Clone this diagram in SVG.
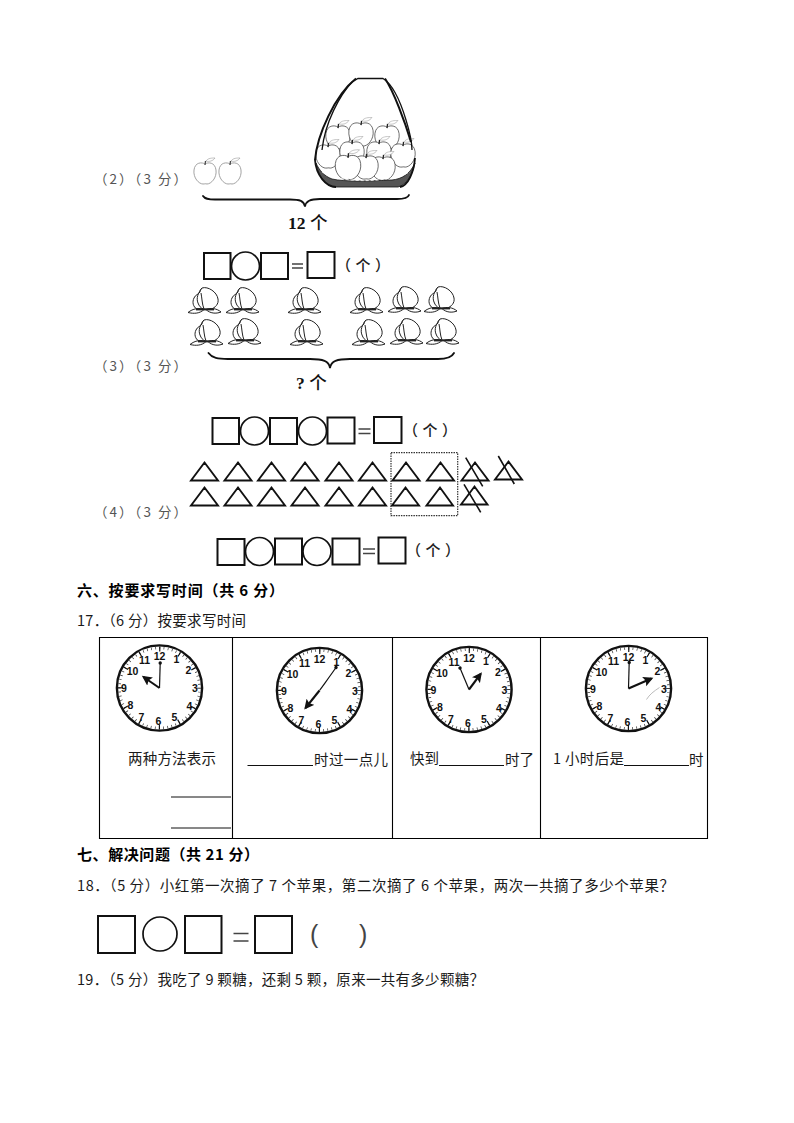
<svg xmlns="http://www.w3.org/2000/svg" xmlns:xlink="http://www.w3.org/1999/xlink" width="794" height="1123" viewBox="0 0 794 1123">
<style>
text{font-family:"Noto Sans CJK SC","Liberation Sans",sans-serif;fill:#1a1a1a;font-size:14.5px}
.g{fill:#555;font-size:13.5px}
.h{font-weight:700;font-size:15px;fill:#000}
.b{font-family:"Liberation Serif","Noto Sans CJK SC",serif;font-weight:700;font-size:17.5px;fill:#111}
.pa{font-size:15px;fill:#222;font-weight:500}
.s{fill:#fff;stroke:#111;stroke-width:2}
.c{fill:#fff;stroke:#111;stroke-width:1.7}
.e{stroke:#444;stroke-width:1.4;fill:none}
.t{fill:none;stroke:#111;stroke-width:1.9;stroke-linejoin:miter}
.x{stroke:#111;stroke-width:1.6}
.n{font-family:"Liberation Sans",sans-serif;font-weight:700;font-size:10.5px;text-anchor:middle;fill:#111}
.l{stroke:#000;stroke-width:1.1;fill:none}
.u{stroke:#111;stroke-width:1}
.hh{stroke:#111;stroke-width:2.1;fill:none;marker-end:url(#ah)}
.mh{stroke:#111;stroke-width:1.2;fill:none;marker-end:url(#am)}
.br{fill:none;stroke:#111;stroke-width:1.8;stroke-linecap:round}
.ap{fill:#fff;stroke:#444;stroke-width:.7}
.apg{fill:#fff;stroke:#999;stroke-width:.9}
</style>
<defs>
<marker id="ah" markerUnits="userSpaceOnUse" markerWidth="12" markerHeight="12" refX="8" refY="5" orient="auto"><path d="M0 0L10 5L0 10L2 5Z" fill="#111"/></marker>
<marker id="am" markerUnits="userSpaceOnUse" markerWidth="5" markerHeight="5" refX="2.5" refY="2.5" orient="auto"><circle cx="2.5" cy="2.5" r="1.7" fill="#111"/></marker>
<g id="face">
<circle r="42.6" fill="#fff" stroke="#111" stroke-width="2.4"/>
<circle r="40" fill="none" stroke="#333" stroke-width="2.6" stroke-dasharray="0.7 3.489" stroke-dashoffset="0.35"/>
<circle r="39" fill="none" stroke="#111" stroke-width="5" stroke-dasharray="1.2 19.22" stroke-dashoffset="0.6"/>
</g>
<g id="apple">
<path class="ap" d="M0-9C-3-11-10-11-11-3C-12 5-6 11-2 11C0 11 0 10.500 2 11C6 11 12 5 11-3C10-11 3-11 0-9Z"/>
<path d="M0-8L.5-12" stroke="#222" stroke-width="1.2"/>
<path d="M1-12C3-15 7-15 10-15C8-12 4-11 1-12Z" fill="#fff" stroke="#999" stroke-width=".5"/>
</g>
<g id="appleg">
<path class="apg" d="M0-9C-3-11-10-11-11-3C-12 5-6 11-2 11C0 11 0 10.500 2 11C6 11 12 5 11-3C10-11 3-11 0-9Z"/>
<path d="M0-8L.5-12" stroke="#444" stroke-width="1.2"/>
<path d="M1-12C3-15 7-15 10-15C8-12 4-11 1-12Z" fill="#fff" stroke="#999" stroke-width=".6"/>
</g>
<g id="peach" fill="#fff" stroke="#222" stroke-width="1">
<path d="M-3-13C3-15 12-9 13-2C14 3 10 7 6 8L-8 8C-12 6-13 1-11-3C-10-6-6-7-5-9C-5-11-4-12-3-13Z"/>
<path d="M-3-13C-7-8-9-3-7 2C-6 5-4 7-2 8" fill="none"/>
<path d="M-4-8C-3-3-3 3-1 8" fill="none"/>
<path d="M-1 8.500C-6 6.500-12 7.500-17 11.500C-11 13-5 12.500-1 8.500Z"/>
<path d="M1 8.500C6 6.500 12 7.500 16 11C11 13 5 12.500 1 8.500Z"/>
<path d="M-9 8.500L9 8.500" stroke-width="1.800" fill="none"/>
</g>
</defs>
<rect width="794" height="1123" fill="#fff"/>

<g id="q2">
<text class="g" x="94" y="184" textLength="93">（2）（3 分）</text>
<use xlink:href="#appleg" href="#appleg" x="205" y="173"/>
<use xlink:href="#appleg" href="#appleg" x="230" y="173"/>
<g id="basket">
<use xlink:href="#apple" href="#apple" transform="translate(338 137) scale(1.100)"/>
<use xlink:href="#apple" href="#apple" transform="translate(361 134) scale(1.100)"/>
<use xlink:href="#apple" href="#apple" transform="translate(387 137) scale(1.100)"/>
<use xlink:href="#apple" href="#apple" transform="translate(328 156) scale(1.100)"/>
<use xlink:href="#apple" href="#apple" transform="translate(352 153) scale(1.100)"/>
<use xlink:href="#apple" href="#apple" transform="translate(379 153) scale(1.100)"/>
<use xlink:href="#apple" href="#apple" transform="translate(403 155) scale(1.100)"/>
<use xlink:href="#apple" href="#apple" transform="translate(383 168) scale(1.100)"/>
<use xlink:href="#apple" href="#apple" transform="translate(366 167) scale(1.100)"/>
<use xlink:href="#apple" href="#apple" transform="translate(348 167) scale(1.150)"/>
<path d="M316 163C319 178 326 186 334 187L398 187C406 185 412 176 415 163C410 174 402 179 392 180C370 181 345 182 332 179C324 176 319 170 316 163Z" fill="#555" stroke="#111" stroke-width=".8"/>
<path d="M322 172C340 183 385 184 410 172" fill="none" stroke="#fff" stroke-width=".8" stroke-dasharray="3 2"/>
<path d="M322 150C325 122 340 95 352 82L358 78.500L383 78.500C392 84 400 100 406 120C410 133 412 140 412 150" fill="none" stroke="#111" stroke-width="1.300"/>
<path d="M315 160C317 135 335 95 356 78.500M385 78.500C394 92 405 122 411 142" fill="none" stroke="#111" stroke-width="2"/>
<path d="M315 160C316 175 326 187 336 187" fill="none" stroke="#111" stroke-width="1.800"/>
<path d="M415 158C414 172 408 186 400 187" fill="none" stroke="#111" stroke-width="1.800"/>
</g>
<path class="br" d="M203 196C205 199 208 199.500 215 199.500L290 199.500C300 199.500 304 201 305 206.500C306 201 310 199 320 199L397 199C405 199 408 198 409 195"/>
<text class="b" x="288" y="229">12 <tspan style="font-family:'Noto Sans CJK SC',sans-serif;font-weight:500">个</tspan></text>
</g>

<g id="q3">
<text class="g" x="94" y="371" textLength="93">（3）（3 分）</text>
<rect class="s" x="204" y="253" width="26.500" height="26"/>
<circle class="c" cx="245.500" cy="266" r="14"/>
<rect class="s" x="261" y="253" width="27" height="26"/>
<path class="e" d="M292 264H303M292 268H303"/>
<rect class="s" x="307.500" y="252" width="27" height="26"/>
<text class="pa" x="336" y="271" textLength="54">（个）</text>
<use xlink:href="#peach" href="#peach" x="205" y="301"/>
<use xlink:href="#peach" href="#peach" x="243" y="301"/>
<use xlink:href="#peach" href="#peach" x="305" y="301"/>
<use xlink:href="#peach" href="#peach" x="367" y="301"/>
<use xlink:href="#peach" href="#peach" x="405" y="300"/>
<use xlink:href="#peach" href="#peach" x="441" y="300"/>
<use xlink:href="#peach" href="#peach" x="207" y="333"/>
<use xlink:href="#peach" href="#peach" x="245" y="332"/>
<use xlink:href="#peach" href="#peach" x="307" y="333"/>
<use xlink:href="#peach" href="#peach" x="369" y="333"/>
<use xlink:href="#peach" href="#peach" x="407" y="332"/>
<use xlink:href="#peach" href="#peach" x="443" y="332"/>
<path class="br" d="M208.500 353C212 358 218 359 228 359L310 359C323 359 329 361 330 368C331 361 337 359 350 359L438 359C448 359 452 357 454 353"/>
<text class="b" x="296" y="389">? <tspan style="font-family:'Noto Sans CJK SC',sans-serif;font-weight:500">个</tspan></text>
</g>

<g id="q4">
<text class="g" x="94" y="517" textLength="93">（4）（3 分）</text>
<g id="eq4a">
<rect class="s" x="212.500" y="418" width="26.500" height="26"/>
<circle class="c" cx="254.500" cy="431" r="14"/>
<rect class="s" x="270" y="418" width="27" height="26"/>
<circle class="c" cx="312.500" cy="431" r="14"/>
<rect class="s" x="327.500" y="417.500" width="27" height="26"/>
<path class="e" d="M358.500 429H370.500M358.500 433.500H370.500"/>
<rect class="s" x="374" y="417" width="27.500" height="26"/>
<text class="pa" x="403" y="436" textLength="54">（个）</text>
</g>
<g id="triangles">
<path class="t" d="M191 480.500L204.500 462.500L218 480.500ZM224.500 480.500L238 462.500L251.500 480.500ZM258 480.500L271.500 462.500L285 480.500ZM291.500 480.500L305 462.500L318.500 480.500ZM325.500 480.500L339 462.500L352.500 480.500ZM359 480.500L372.500 462.500L386 480.500ZM392.500 480.500L406 462.500L419.500 480.500ZM427 480.500L440.500 462.500L454 480.500ZM461.500 480.500L475 462.500L488.500 480.500ZM495 479.500L508.500 461.500L522 479.500Z"/>
<path class="t" d="M191 505.500L204.500 487.500L218 505.500ZM224.500 505.500L238 487.500L251.500 505.500ZM258 505.500L271.500 487.500L285 505.500ZM291.500 505.500L305 487.500L318.500 505.500ZM325.500 505.500L339 487.500L352.500 505.500ZM359 505.500L372.500 487.500L386 505.500ZM392 505.500L405.500 487.500L419 505.500ZM426.500 505.500L440 487.500L453 505.500ZM461 504.500L474.500 486.500L487.500 504.500Z"/>
<path class="x" d="M465.700 457.700L482.700 486.300M498.300 456L514.300 484M464 484.300L480.700 512.300"/>
<rect x="391" y="452.700" width="66.700" height="63" fill="none" stroke="#333" stroke-width="1.200" stroke-dasharray="1.500 1"/>
</g>
<g id="eq4b">
<rect class="s" x="217.500" y="539" width="27" height="26"/>
<circle class="c" cx="259.500" cy="551.500" r="14"/>
<rect class="s" x="275" y="538.500" width="27" height="26"/>
<circle class="c" cx="317" cy="551.500" r="14"/>
<rect class="s" x="332.500" y="538.500" width="27" height="26"/>
<path class="e" d="M363 549H375M363 553.500H375"/>
<rect class="s" x="378.500" y="537.500" width="27" height="26"/>
<text class="pa" x="406" y="556" textLength="54">（个）</text>
</g>
</g>

<g id="sec6">
<text class="h" x="77" y="596" textLength="207">六、按要求写时间（共 6 分）</text>
<text x="77" y="626" textLength="169">17．（6 分）按要求写时间</text>
</g>

<g id="table">
<path class="l" d="M99.500 637.500H707.500V838.500H99.500ZM232.500 637.500V838.500M392.500 637.500V838.500M540.500 637.500V838.500"/>
</g>

<g id="clock1" transform="translate(159.500 688)">
<use xlink:href="#face" href="#face"/>
<text class="n" x="0" y="-28">12</text><text class="n" x="17" y="-25">1</text><text class="n" x="29" y="-14">2</text><text class="n" x="35.500" y="4">3</text><text class="n" x="30" y="22">4</text><text class="n" x="15" y="33">5</text><text class="n" x="-1" y="37">6</text><text class="n" x="-18" y="33">7</text><text class="n" x="-29" y="21">8</text><text class="n" x="-35.500" y="4">9</text><text class="n" x="-27" y="-13">10</text><text class="n" x="-15" y="-24">11</text>
<path class="mh" d="M0 0L.7-25"/><path class="hh" d="M0 0L-16-11"/>
</g>
<g id="clock2" transform="translate(319.500 690.500)">
<use xlink:href="#face" href="#face"/>
<text class="n" x="0" y="-28">12</text><text class="n" x="17" y="-25">1</text><text class="n" x="29" y="-14">2</text><text class="n" x="35.500" y="4">3</text><text class="n" x="30" y="22">4</text><text class="n" x="15" y="33">5</text><text class="n" x="-1" y="37">6</text><text class="n" x="-18" y="33">7</text><text class="n" x="-29" y="21">8</text><text class="n" x="-35.500" y="4">9</text><text class="n" x="-27" y="-13">10</text><text class="n" x="-15" y="-24">11</text>
<path class="mh" d="M0 0C5-7 11-15 16.500-23"/><path class="hh" d="M0 0L-14 17.500"/>
</g>
<g id="clock3" transform="translate(469 689.500)">
<use xlink:href="#face" href="#face"/>
<text class="n" x="0" y="-28">12</text><text class="n" x="17" y="-25">1</text><text class="n" x="29" y="-14">2</text><text class="n" x="35.500" y="4">3</text><text class="n" x="30" y="22">4</text><text class="n" x="15" y="33">5</text><text class="n" x="-1" y="37">6</text><text class="n" x="-18" y="33">7</text><text class="n" x="-29" y="21">8</text><text class="n" x="-35.500" y="4">9</text><text class="n" x="-27" y="-13">10</text><text class="n" x="-15" y="-24">11</text>
<path class="mh" d="M0 0L-9-21.500"/><path class="hh" d="M0 0L11.700-15.700"/>
</g>
<g id="clock4" transform="translate(628.500 688.500)">
<use xlink:href="#face" href="#face"/>
<text class="n" x="0" y="-28">12</text><text class="n" x="17" y="-25">1</text><text class="n" x="29" y="-14">2</text><text class="n" x="35.500" y="4">3</text><text class="n" x="30" y="22">4</text><text class="n" x="15" y="33">5</text><text class="n" x="-1" y="37">6</text><text class="n" x="-18" y="33">7</text><text class="n" x="-29" y="21">8</text><text class="n" x="-35.500" y="4">9</text><text class="n" x="-27" y="-13">10</text><text class="n" x="-15" y="-24">11</text>
<path class="mh" d="M0 0L.7-26"/><path class="hh" d="M0 0L23-10"/>
<path d="M18 11C21 6 25 3 31-1" fill="none" stroke="#bbb" stroke-width="1"/>
</g>

<g id="cells">
<text x="128" y="764" textLength="88">两种方法表示</text>
<path class="u" d="M171 797H231M171 828H231"/>
<path class="u" d="M247.500 765.500H313"/>
<text x="314" y="765" textLength="74">时过一点儿</text>
<text x="410" y="764" textLength="29">快到</text>
<path class="u" d="M439 765.500H504"/>
<text x="505" y="765" textLength="29">时了</text>
<text x="553" y="764" textLength="71">1 小时后是</text>
<path class="u" d="M624 765.500H689"/>
<text x="689" y="765">时</text>
</g>

<g id="sec7">
<text class="h" x="77" y="860" textLength="182">七、解决问题（共 21 分）</text>
<text x="77" y="891" textLength="597">18．（5 分）小红第一次摘了 7 个苹果，第二次摘了 6 个苹果，两次一共摘了多少个苹果？</text>
<g id="eq18">
<rect class="s" x="98" y="916" width="37" height="37"/>
<circle class="c" cx="160" cy="934" r="17"/>
<rect class="s" x="185" y="916" width="36.500" height="37"/>
<path class="e" d="M233.500 933.500H248.500M233.500 941H248.500"/>
<rect class="s" x="255" y="916" width="37" height="37"/>
<text x="310" y="943" style="font-family:'Liberation Sans',sans-serif;font-size:25px;fill:#444">(</text>
<text x="359" y="943" style="font-family:'Liberation Sans',sans-serif;font-size:25px;fill:#444">)</text>
</g>
<text x="77" y="985" textLength="407">19．（5 分）我吃了 9 颗糖，还剩 5 颗，原来一共有多少颗糖？</text>
</g>
</svg>
